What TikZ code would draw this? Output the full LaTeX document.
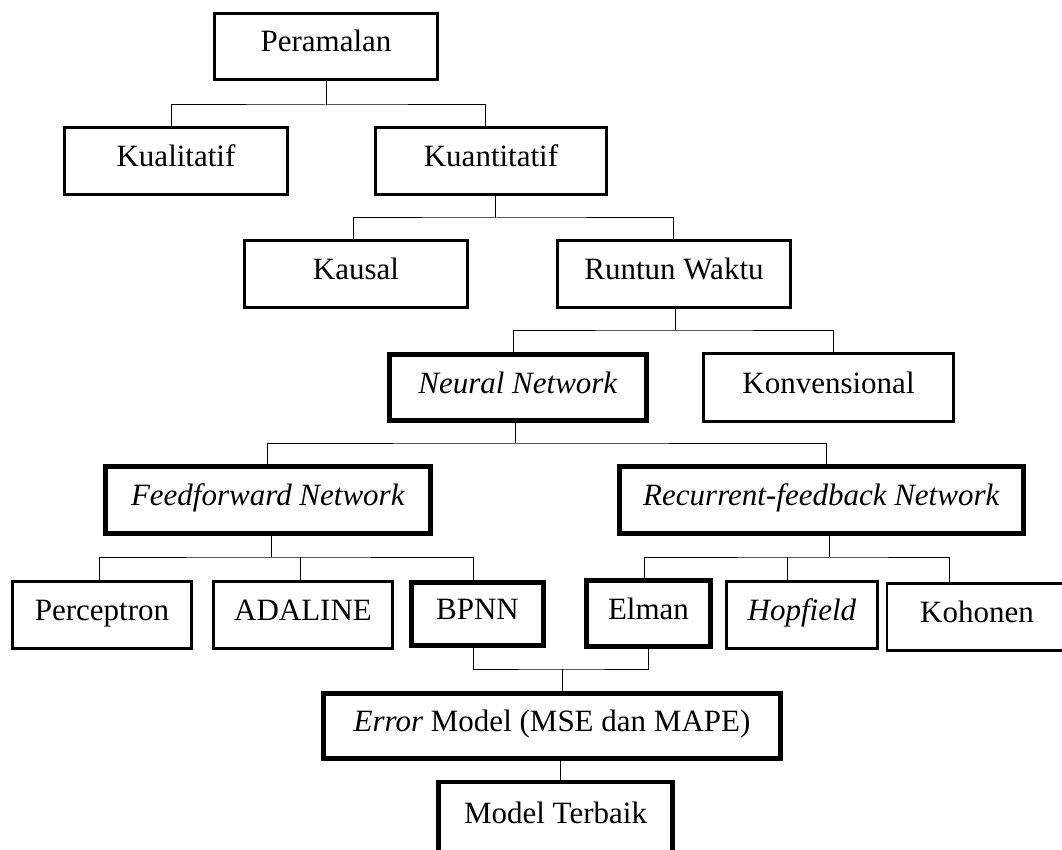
\documentclass[tikz,border=0pt]{standalone}
\usepackage{fontspec}
\setmainfont{Liberation Serif}
\begin{document}
\begin{tikzpicture}[x=1pt,y=-1pt,
  box/.style={draw, line width=2.8pt, rectangle, inner sep=0pt, text height=21pt, text depth=10pt, font=\fontsize{31}{36}\selectfont, anchor=center},
  boxthick/.style={box, line width=4.6pt},
  conn/.style={line width=1pt}]
\useasboundingbox (0,0) rectangle (1062,850);
\clip (0,0) rectangle (1062,850);
% nodes
\node[box, minimum width=223pt, minimum height=66pt] (peram) at (326,46.5) {Peramalan};
\node[box, minimum width=223pt, minimum height=67pt] (kual) at (176,161) {Kualitatif};
\node[box, minimum width=231pt, minimum height=67pt] (kuan) at (491,161) {Kuantitatif};
\node[box, minimum width=223pt, minimum height=67pt] (kausal) at (356,274) {Kausal};
\node[box, minimum width=233pt, minimum height=67pt] (runtun) at (674,274) {Runtun Waktu};
\node[boxthick, minimum width=257pt, minimum height=66pt] (nn) at (518,387.5) {\textit{Neural Network}};
\node[box, minimum width=250pt, minimum height=68pt] (konv) at (828.5,387.5) {Konvensional};
\node[boxthick, minimum width=325pt, minimum height=67pt] (ff) at (268,500) {\textit{Feedforward Network}};
\node[boxthick, minimum width=404pt, minimum height=67pt] (rf) at (821.5,500) {\textit{Recurrent-feedback Network}};
\node[box, minimum width=179pt, minimum height=67pt] (perc) at (102,615) {Perceptron};
\node[box, minimum width=179pt, minimum height=67pt] (adal) at (303,615) {ADALINE};
\node[boxthick, minimum width=132pt, minimum height=63pt] (bpnn) at (477.5,614) {BPNN};
\node[boxthick, minimum width=124pt, minimum height=66pt] (elman) at (648.5,613.5) {Elman};
\node[box, minimum width=151pt, minimum height=67pt] (hop) at (802,615) {\textit{Hopfield}};
\node[box, minimum width=180pt, minimum height=67pt] (koh) at (977,617) {Kohonen};
\node[boxthick, minimum width=457pt, minimum height=65pt] (err) at (552,726) {\textit{Error} Model (MSE dan MAPE)};
\node[boxthick, minimum width=234pt, minimum height=72pt] (best) at (555.5,818) {Model Terbaik};
% bus coordinates
\coordinate (b1) at (326,105);
\coordinate (b2) at (495,218);
\coordinate (b3) at (675,330);
\coordinate (b4) at (515,443);
\coordinate (b5) at (271,557);
\coordinate (b6) at (829,557);
\coordinate (b7) at (562,669);
\coordinate (adtop) at ([xshift=-3pt]adal.north);
\coordinate (hoptop) at ([xshift=-15pt]hop.north);
% connectors
\draw[conn] (peram.south) -- (b1);
\draw[conn] ([xshift=-5pt]kual.north) |- (b1) -| ([xshift=-6pt]kuan.north);
\draw[conn] ([xshift=4pt]kuan.south) -- (b2);
\draw[conn] ([xshift=-3pt]kausal.north) |- (b2) -| ([xshift=-1pt]runtun.north);
\draw[conn] ([xshift=1pt]runtun.south) -- (b3);
\draw[conn] ([xshift=-5pt]nn.north) |- (b3) -| ([xshift=4.5pt]konv.north);
\draw[conn] ([xshift=-3pt]nn.south) -- (b4);
\draw[conn] ([xshift=-1pt]ff.north) |- (b4) -| ([xshift=4.5pt]rf.north);
\draw[conn] ([xshift=3pt]ff.south) -- (b5);
\draw[conn] ([xshift=-3pt]perc.north) |- (b5) -| ([xshift=-4.5pt]bpnn.north);
\draw[conn] (adtop) -- (adtop |- b5);
\draw[conn] ([xshift=7.5pt]rf.south) -- (b6);
\draw[conn] ([xshift=-4.5pt]elman.north) |- (b6) -| ([xshift=-28pt]koh.north);
\draw[conn] (hoptop) -- (hoptop |- b6);
\draw[conn] ([xshift=-4.5pt]bpnn.south) |- (b7) -| ([xshift=-0.5pt]elman.south);
\draw[conn] (b7) -- ([xshift=10pt]err.north);
\draw[conn] ([xshift=8pt]err.south) -- ([xshift=4.5pt]best.north);
\end{tikzpicture}
\end{document}
